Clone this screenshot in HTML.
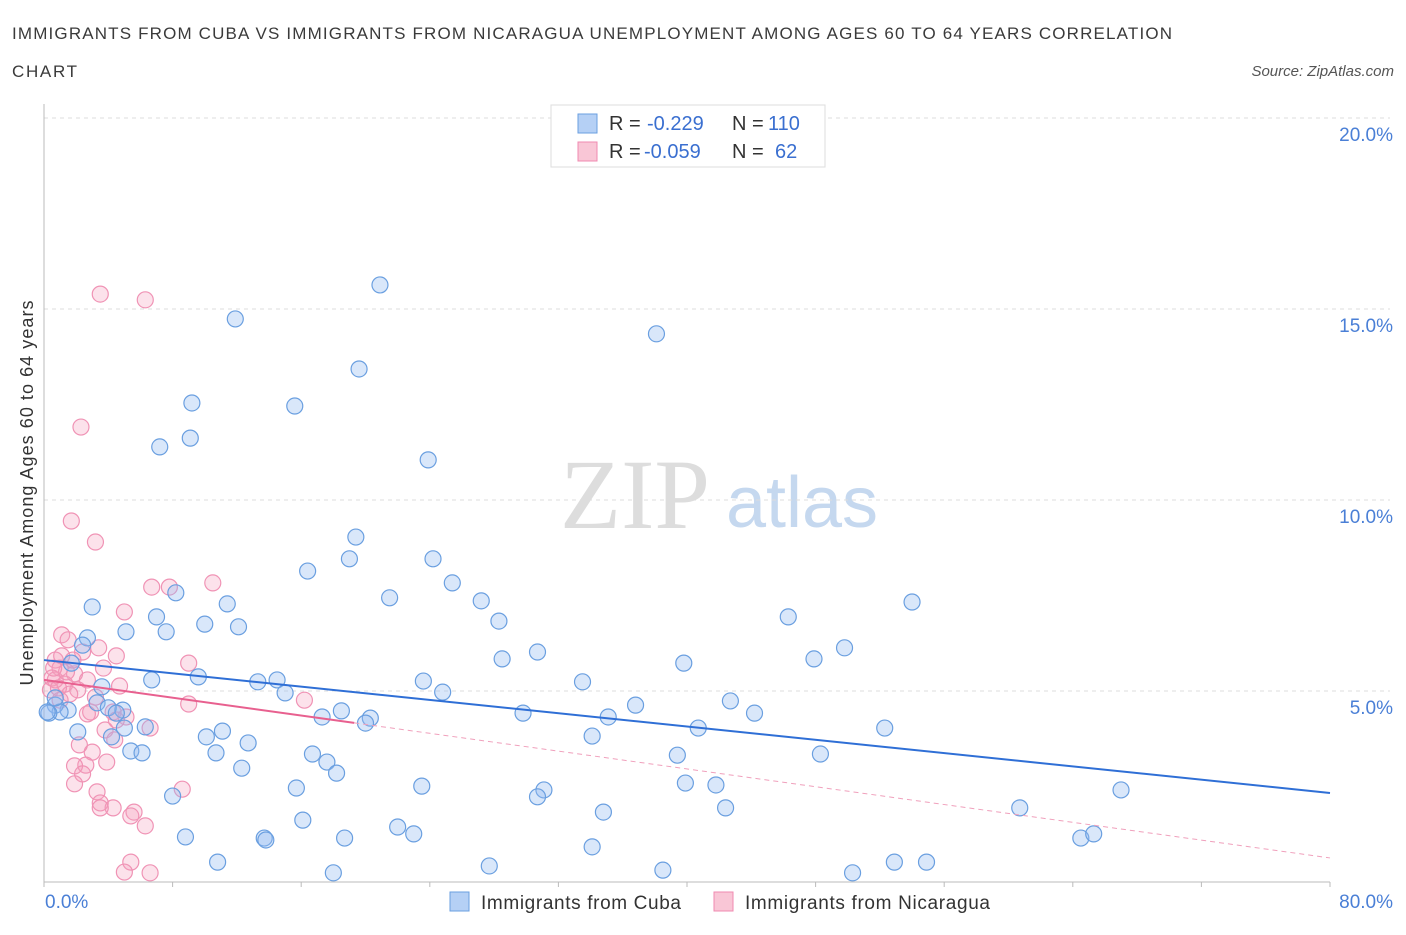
<!DOCTYPE html>
<html><head><meta charset="utf-8"><style>
body{margin:0;background:#fff;font-family:"Liberation Sans",sans-serif;}
</style></head><body>
<svg id="chart" width="1406" height="930" viewBox="0 0 1406 930" xmlns="http://www.w3.org/2000/svg" font-family="Liberation Sans, sans-serif">
<text x="12" y="39" font-size="17" fill="#3a3a3a" textLength="1160" lengthAdjust="spacing">IMMIGRANTS FROM CUBA VS IMMIGRANTS FROM NICARAGUA UNEMPLOYMENT AMONG AGES 60 TO 64 YEARS CORRELATION</text>
<text x="12" y="77" font-size="17" fill="#3a3a3a" textLength="65">CHART</text>
<text x="1394" y="76" font-size="15" fill="#555" font-style="italic" text-anchor="end">Source: ZipAtlas.com</text>
<g>
<text x="635" y="528" font-size="100" fill="#ddd" font-family="Liberation Serif, serif" text-anchor="middle">ZIP</text>
<text x="802" y="527" font-size="72" fill="#c5d8ef" text-anchor="middle">atlas</text>
</g>
<g id="grid"></g>
<g id="axes"></g>
<g id="pink"></g>
<g id="blue"></g>
<g id="trends"></g>
<text transform="translate(33,493) rotate(-90)" font-size="18" fill="#333" text-anchor="middle" textLength="385">Unemployment Among Ages 60 to 64 years</text>
<g>
<rect x="551" y="105" width="274" height="62" fill="#fff" stroke="#ddd"/>
<rect x="578" y="114" width="19" height="19" fill="#b5d0f5" stroke="#6a9fe0"/>
<rect x="578" y="142" width="19" height="19" fill="#f9c6d6" stroke="#f08ab0"/>
<text x="609" y="130" font-size="20" fill="#333">R =</text>
<text x="647" y="130" font-size="20" fill="#3a6fd0">-0.229</text>
<text x="732" y="130" font-size="20" fill="#333">N =</text>
<text x="768" y="130" font-size="20" fill="#3a6fd0">110</text>
<text x="609" y="158" font-size="20" fill="#333">R =</text>
<text x="644" y="158" font-size="20" fill="#3a6fd0">-0.059</text>
<text x="732" y="158" font-size="20" fill="#333">N =</text>
<text x="775" y="158" font-size="20" fill="#3a6fd0">62</text>
</g>
<g>
<rect x="450" y="892" width="19" height="19" fill="#b5d0f5" stroke="#6a9fe0"/>
<text x="481" y="909" font-size="19" fill="#333" textLength="200">Immigrants from Cuba</text>
<rect x="714" y="892" width="19" height="19" fill="#f9c6d6" stroke="#f08ab0"/>
<text x="745" y="909" font-size="19" fill="#333" textLength="245">Immigrants from Nicaragua</text>
</g>
</svg>
<script>
const yTicks=[5,10,15,20];
const yTickLabels=["5.0%","10.0%","15.0%","20.0%"];
const xTicks=[0,8,16,24,32,40,48,56,64,72,80];
const xEndLabels=["0.0%","80.0%"];
const cubaX=[11.9,20.9,38.1,9.2,15.6,19.6,9.1,7.2,23.9,19.4,19.0,24.2,16.4,25.4,21.5,27.2,28.3,8.2,3.0,7.0,11.4,10.0,12.1,5.1,7.6,2.7,2.4,28.5,30.7,39.8,46.3,54.0,49.8,47.9,1.7,6.7,9.6,13.3,14.5,15.0,23.6,24.8,33.5,3.6,36.8,42.7,44.2,29.8,35.1,17.3,18.5,20.3,20.0,3.3,4.9,1.5,0.7,1.0,0.3,0.7,4.0,4.5,2.1,4.2,5.0,6.3,11.1,10.1,12.7,10.7,5.4,6.1,34.1,40.7,52.3,39.4,48.3,16.7,17.6,18.2,12.3,8.0,15.7,23.5,31.1,30.7,39.9,41.8,67.0,34.8,42.4,60.7,16.1,22.0,23.0,8.8,13.7,13.8,18.7,34.1,64.5,65.3,10.8,27.7,38.5,52.9,54.9,18.0,50.3,0.2];
const cubaY=[14.74,15.63,14.35,12.54,12.46,13.43,11.62,11.39,11.05,9.03,8.46,8.46,8.14,7.83,7.44,7.36,6.83,7.57,7.20,6.94,7.28,6.75,6.68,6.55,6.55,6.39,6.20,5.84,6.02,5.73,6.94,7.33,6.13,5.84,5.73,5.29,5.37,5.24,5.29,4.95,5.26,4.97,5.24,5.11,4.63,4.74,4.42,4.42,4.32,4.32,4.48,4.29,4.16,4.69,4.50,4.50,4.63,4.45,4.42,4.82,4.56,4.42,3.93,3.80,4.03,4.06,3.95,3.80,3.64,3.38,3.43,3.38,3.82,4.03,4.03,3.32,3.35,3.35,3.14,2.85,2.98,2.25,2.46,2.51,2.41,2.23,2.59,2.54,2.41,1.83,1.94,1.94,1.62,1.44,1.26,1.18,1.15,1.10,1.15,0.92,1.15,1.26,0.52,0.42,0.31,0.52,0.52,0.24,0.24,4.45];
const nicX=[3.5,6.3,2.3,1.7,3.2,6.7,7.8,10.5,5.0,1.1,1.5,3.4,2.4,4.5,9.0,3.7,0.7,1.0,1.9,0.5,1.3,0.4,0.7,2.7,4.7,2.1,1.6,16.2,9.0,2.9,4.3,2.7,5.1,6.6,3.0,3.9,2.6,1.9,2.4,1.9,8.6,3.3,3.5,4.3,3.5,5.6,6.3,5.4,5.4,6.6,5.0,1.0,1.4,0.6,0.9,1.1,1.8,3.2,3.8,4.4,2.2,4.5];
const nicY=[15.39,15.24,11.91,9.45,8.90,7.72,7.72,7.83,7.07,6.47,6.34,6.13,6.02,5.92,5.73,5.60,5.81,5.60,5.45,5.34,5.18,5.03,5.29,5.29,5.13,5.03,4.92,4.76,4.66,4.45,4.45,4.40,4.32,4.03,3.40,3.14,3.06,3.04,2.83,2.57,2.43,2.36,2.07,1.94,1.94,1.83,1.47,1.73,0.52,0.24,0.26,4.76,5.50,5.60,5.08,5.92,5.81,4.84,3.98,3.72,3.59,4.24];
const cubaTrend=[5.81,2.33];
const nicTrend=[5.29,0.63];
const nicSolidEnd=19.3;

const NS="http://www.w3.org/2000/svg";
const X0=44,X1=1330,Y0=882,Ymax=20,Ytop=118;
const sx=v=>X0+(v/80)*(X1-X0);
const sy=v=>Y0-(v/Ymax)*(Y0-Ytop);
function mk(tag,attrs,parent){const e=document.createElementNS(NS,tag);for(const k in attrs)e.setAttribute(k,attrs[k]);document.getElementById(parent).appendChild(e);return e;}
yTicks.forEach((t,i)=>{
  const g=mk('line',{x1:X0,x2:X1+60,y1:sy(t),y2:sy(t),stroke:'#ddd','stroke-dasharray':'4,4'},'grid');
  
  
  const l=mk('text',{x:1393,y:sy(t)+23,'font-size':19,fill:'#4a7fd6','text-anchor':'end'},'grid');
  l.textContent=yTickLabels[i];
  
  
});
const ax=mk('line',{x1:X0,x2:X0,y1:104,y2:Y0,stroke:'#bbb'},'axes');


const bx=mk('line',{x1:X0,x2:X1,y1:Y0,y2:Y0,stroke:'#bbb'},'axes');


xTicks.forEach(t=>{
  const tk=mk('line',{x1:sx(t),x2:sx(t),y1:Y0,y2:Y0+5,stroke:'#bbb'},'axes');
  
  
});
const xl0=mk('text',{x:45,y:908,'font-size':19,fill:'#4a7fd6'},'axes');xl0.textContent=xEndLabels[0];


const xl1=mk('text',{x:1393,y:908,'font-size':19,fill:'#4a7fd6','text-anchor':'end'},'axes');xl1.textContent=xEndLabels[1];


nicX.forEach((v,i)=>{
  const c=mk('circle',{cx:sx(v),cy:sy(nicY[i]),r:8,fill:'rgba(244,160,190,0.3)',stroke:'#f093b5','stroke-width':1.2},'pink');
  
  
});
cubaX.forEach((v,i)=>{
  const c=mk('circle',{cx:sx(v),cy:sy(cubaY[i]),r:8,fill:'rgba(147,187,240,0.35)',stroke:'#6a9fe0','stroke-width':1.2},'blue');
  
  
});
const tb=mk('line',{x1:sx(0),y1:sy(cubaTrend[0]),x2:sx(80),y2:sy(cubaTrend[1]),stroke:'#2f6fd6','stroke-width':2},'trends');


const nm=nicTrend[0]+(nicTrend[1]-nicTrend[0])*nicSolidEnd/80;
const tp=mk('line',{x1:sx(0),y1:sy(nicTrend[0]),x2:sx(nicSolidEnd),y2:sy(nm),stroke:'#e8608f','stroke-width':2},'trends');


const td=mk('line',{x1:sx(nicSolidEnd),y1:sy(nm),x2:sx(80),y2:sy(nicTrend[1]),stroke:'#f0a0bc','stroke-width':1,'stroke-dasharray':'5,4'},'trends');


</script>
</body></html>
